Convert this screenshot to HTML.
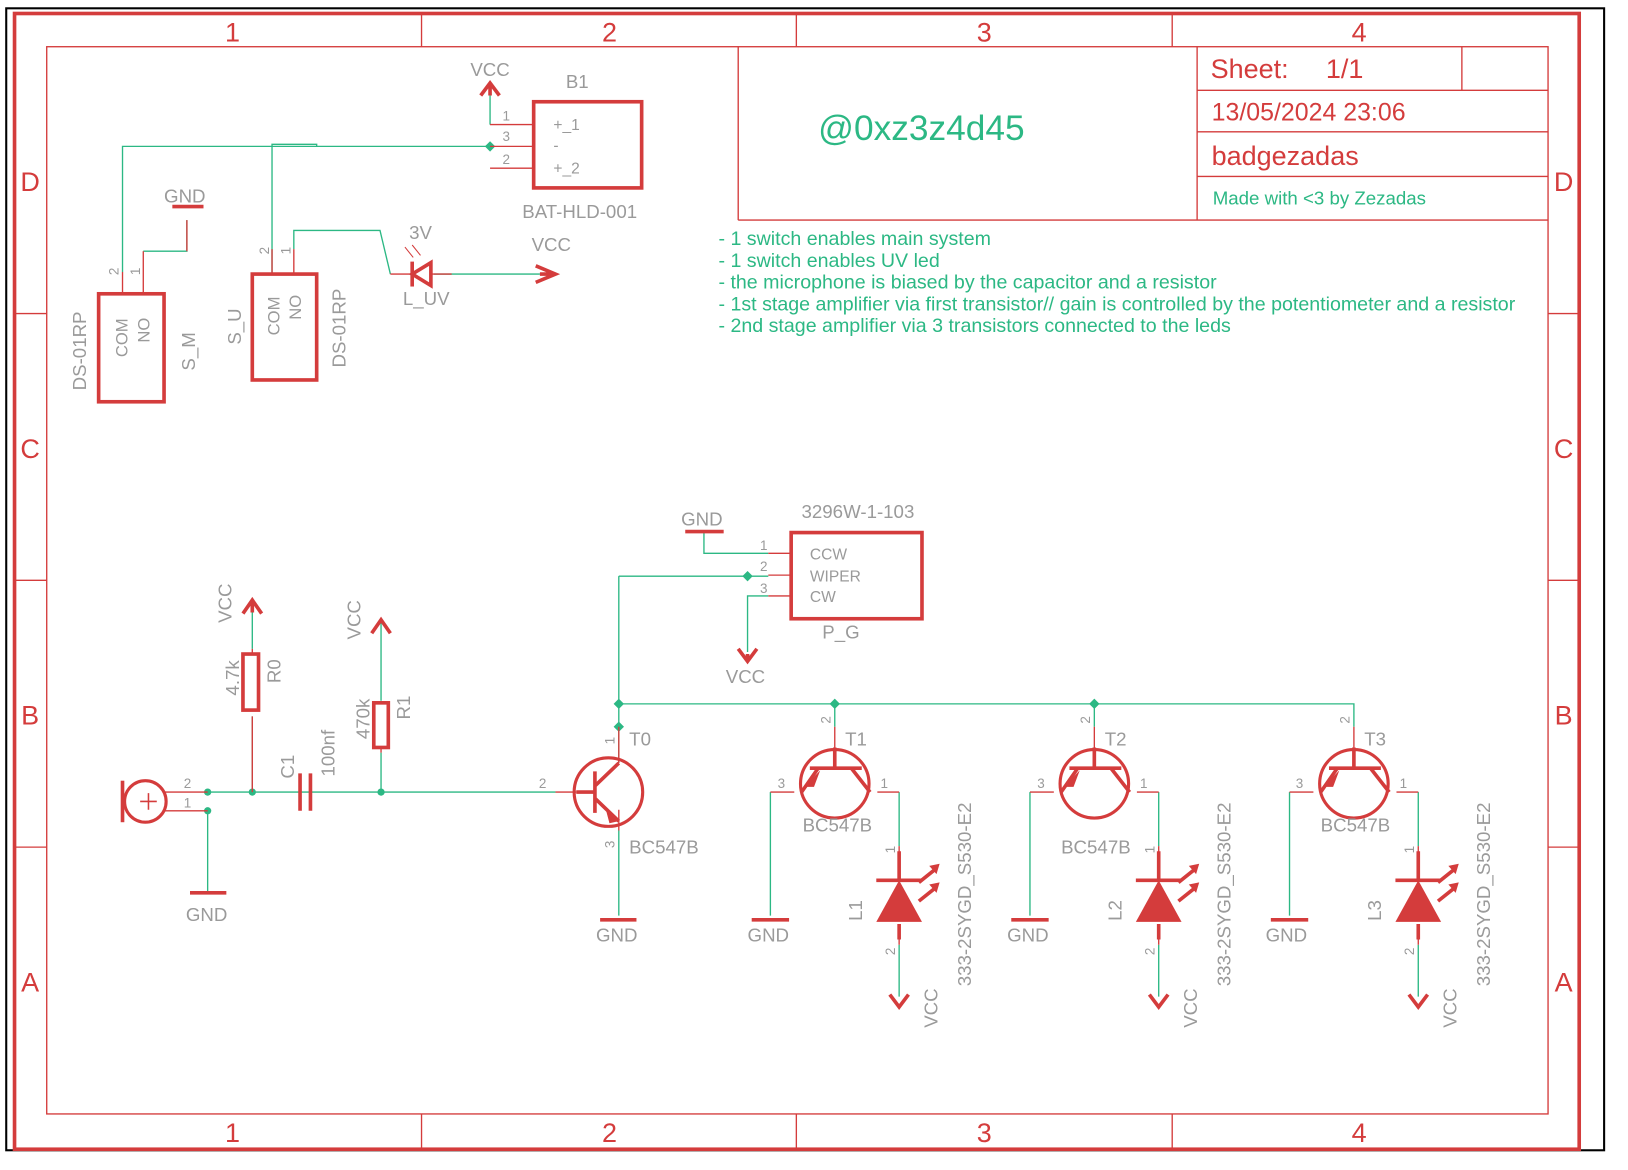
<!DOCTYPE html>
<html><head><meta charset="utf-8"><style>
html,body{margin:0;padding:0;background:#fff}
svg{display:block}
text{font-family:"Liberation Sans",sans-serif}
.g{fill:#9a9a9a}
.t{fill:#2cb884}
.r{fill:#d43c3c}
</style></head><body>
<svg width="1628" height="1170" viewBox="0 0 1568 1127" preserveAspectRatio="none" xmlns="http://www.w3.org/2000/svg">
<rect x="6" y="8" width="1539" height="1100" fill="none" stroke="#000" stroke-width="2"/>
<g stroke="#d43c3c" fill="none">
<rect x="14" y="13" width="1507" height="1094" stroke-width="3.5"/>
<rect x="45" y="45" width="1446" height="1028" stroke-width="1.3"/>
<path d="M406 13V45M767 13V45M1129 13V45M406 1073V1107M767 1073V1107M1129 1073V1107M14 302H45M14 559H45M14 816H45M1491 302H1521M1491 559H1521M1491 816H1521" stroke-width="1.3"/>
<path d="M711 45V212M1153 45V212M1408 45V87M1153 87H1491M1153 127H1491M1153 170H1491M711 212H1491" stroke-width="1.3"/>
</g>
<g class="r" font-size="26" text-anchor="middle">
<text x="224" y="40">1</text><text x="587" y="40">2</text><text x="948" y="40">3</text><text x="1309" y="40">4</text>
<text x="224" y="1100">1</text><text x="587" y="1100">2</text><text x="948" y="1100">3</text><text x="1309" y="1100">4</text>
<text x="29" y="184">D</text><text x="29" y="441">C</text><text x="29" y="698">B</text><text x="29" y="955">A</text>
<text x="1506" y="184">D</text><text x="1506" y="441">C</text><text x="1506" y="698">B</text><text x="1506" y="955">A</text>
</g>
<g class="r" font-size="26">
<text x="1166" y="75">Sheet:</text><text x="1277" y="75">1/1</text>
<text x="1167" y="116" font-size="24">13/05/2024 23:06</text>
<text x="1167" y="159">badgezadas</text>
</g>
<text class="t" x="1168" y="197" font-size="18">Made with &lt;3 by Zezadas</text>
<text class="t" x="788" y="135" font-size="34">@0xz3z4d45</text>
<g class="t" font-size="18.9">
<text x="692" y="236">- 1 switch enables main system</text>
<text x="692" y="257">- 1 switch enables UV led</text>
<text x="692" y="278">- the microphone is biased by the capacitor and a resistor</text>
<text x="692" y="299">- 1st stage amplifier via first transistor// gain is controlled by the potentiometer and a resistor</text>
<text x="692" y="320">- 2nd stage amplifier via 3 transistors connected to the leds</text>
</g>

<g stroke="#2cb884" stroke-width="1.3" fill="none">
<path d="M472 92V120M118 262V141H472M262 264V139H305V141M283 240V222H366L376 264M418 264H520"/>
<path d="M138 242H180V212"/>
<path d="M200 763H535M200 781V860M243 763V690M243 625V590M367 763V725M367 675V600"/>
<path d="M596 555V735M596 678H1304V700M596 555H740M678 512V533H740M740 574H720V628M596 800V882"/>
<path d="M804 678V700M742 763V882M866 763V815M866 910V960"/>
<path d="M1054 678V700M992 763V882M1116 763V815M1116 910V960"/>
<path d="M1242 763V882M1366 763V815M1366 910V960"/>
</g>
<g fill="#2cb884">
<path d="M472 136l5 5-5 5-5-5z"/>
<circle cx="200" cy="763" r="3.5"/><circle cx="200" cy="781" r="3.5"/><circle cx="243" cy="763" r="3.5"/><circle cx="367" cy="763" r="3.5"/>
<path d="M596 673l5 5-5 5-5-5zM596 695l5 5-5 5-5-5zM804 673l5 5-5 5-5-5zM1054 673l5 5-5 5-5-5zM720 550l5 5-5 5-5-5z"/>
</g>

<g stroke="#d43c3c" fill="none">
<g stroke-width="1.3">
<path d="M472 120H514M472 141H514M472 162H514M118 262V283M138 242V283M180 212V242M262 240V264M283 240V264M376 264H397M415 264H435"/>
<path d="M158 763H200M158 781H200M243 763V690M243 625V630M367 725V720M535 763H555M740 533H762M740 554H762M740 574H762"/>
<path d="M596 700V735M596 780V800M804 700V720M765 763H742M845 763H866M866 815V840M866 890V910"/>
<path d="M1054 700V720M1015 763H992M1095 763H1116M1116 815V840M1116 890V910"/>
<path d="M1304 700V720M1265 763H1242M1345 763H1366M1366 815V840M1366 890V910"/>
</g>
<g stroke-width="3.5">
<rect x="514" y="98" width="104" height="83"/>
<rect x="95" y="283" width="63" height="104"/>
<rect x="243" y="264" width="62" height="102"/>
<rect x="762" y="513" width="126" height="83"/>
<path d="M463 92L472 80L481 92M472 80V92"/>
<path d="M166 199H196M516 256L535 264L516 272M520 264H535"/>
<path d="M183 860H218M578 886H613M724 886H760M974 886H1010M1224 886H1260"/>
<path d="M234 591L243 578L252 591M243 578V590M358 610L367 597L376 610M367 597V600M711 625L720 637L729 625M720 630V637"/>
<path d="M857 958L866 970L875 958M1107 958L1116 970L1125 958M1357 958L1366 970L1375 958"/>
<path d="M660 512H697"/>
<rect x="234" y="630" width="15" height="54"/>
<rect x="360" y="677" width="14" height="43"/>
<path d="M289 745V781M299 745V781"/>
<path d="M118 752V792"/>
<circle cx="140" cy="772" r="20" stroke-width="3"/>
<path d="M143 764V780M135 772H151" stroke-width="1.5"/>
<path d="M397 252V276"/>
<circle cx="586" cy="763" r="33" stroke-width="3"/>
<path d="M555 763H573M573 743V783M573 757L596 735M573 769L596 791"/>
</g>
<path d="M397 264L415 253L415 275Z" stroke-width="3.5"/>
<g stroke-width="1" stroke="#d43c3c"><path d="M398 248L390 238M405 246L397 236"/></g>
</g>
<path d="M583 778L596 791L587 793Z" fill="#d43c3c"/>

<g id="tr">
<g stroke="#d43c3c" fill="none" stroke-width="3.5">
<circle cx="804" cy="755" r="33" stroke-width="3"/>
<path d="M804 720V740M780 740H830M788 740L772 763M820 740L838 763"/>
<path d="M844 848H888M866 890V905M866 820V848"/>
<path d="M885 850L900 838M885 868L900 856"/>
</g>
<path d="M844 888H888L866 848Z" fill="#d43c3c"/>
<path d="M775 758L790 742L784 758Z M895 834L905 832L902 842Z M895 852L905 850L902 860Z" fill="#d43c3c"/>
</g>
<use href="#tr" x="250"/><use href="#tr" x="500"/>

<g class="g" font-size="18">
<text x="453" y="73">VCC</text><text x="545" y="85">B1</text>
<text x="503" y="210">BAT-HLD-001</text>
<text x="158" y="195">GND</text>
<text x="394" y="230">3V</text><text x="512" y="242">VCC</text><text x="388" y="294">L_UV</text>
<text x="656" y="506">GND</text><text x="772" y="499">3296W-1-103</text>
<text x="792" y="615">P_G</text><text x="699" y="658">VCC</text>
<text x="179" y="887">GND</text><text x="574" y="907">GND</text>
<text x="720" y="907">GND</text><text x="970" y="907">GND</text><text x="1219" y="907">GND</text>
<text x="606" y="718">T0</text><text x="606" y="822">BC547B</text>
<text x="814" y="718">T1</text><text x="773" y="801">BC547B</text>
<text x="1064" y="718">T2</text><text x="1022" y="822">BC547B</text>
<text x="1314" y="718">T3</text><text x="1272" y="801">BC547B</text>
</g>
<g class="g" font-size="15">
<text x="533" y="125">+_1</text><text x="533" y="145">-</text><text x="533" y="167">+_2</text>
<text x="780" y="539">CCW</text><text x="780" y="560">WIPER</text><text x="780" y="580">CW</text>
</g>
<g class="g" font-size="13">
<text x="484" y="116">1</text><text x="484" y="136">3</text><text x="484" y="158">2</text>
<text x="732" y="530">1</text><text x="732" y="550">2</text><text x="732" y="571">3</text>
<text x="177" y="759">2</text><text x="177" y="778">1</text><text x="519" y="759">2</text>
<text x="749" y="759">3</text><text x="848" y="759">1</text>
<text x="999" y="759">3</text><text x="1098" y="759">1</text>
<text x="1248" y="759">3</text><text x="1348" y="759">1</text>
</g>
<g class="g" font-size="13">
<text transform="translate(114,265) rotate(-90)">2</text><text transform="translate(135,265) rotate(-90)">1</text>
<text transform="translate(259,245) rotate(-90)">2</text><text transform="translate(280,245) rotate(-90)">1</text>
<text transform="translate(592,717) rotate(-90)">1</text><text transform="translate(592,817) rotate(-90)">3</text>
<text transform="translate(800,697) rotate(-90)">2</text><text transform="translate(1050,697) rotate(-90)">2</text><text transform="translate(1300,697) rotate(-90)">2</text>
<text transform="translate(862,822) rotate(-90)">1</text><text transform="translate(862,920) rotate(-90)">2</text>
<text transform="translate(1112,822) rotate(-90)">1</text><text transform="translate(1112,920) rotate(-90)">2</text>
<text transform="translate(1362,822) rotate(-90)">1</text><text transform="translate(1362,920) rotate(-90)">2</text>
</g>
<g class="g" font-size="16">
<text transform="translate(123,344) rotate(-90)">COM</text><text transform="translate(144,330) rotate(-90)">NO</text>
<text transform="translate(269,323) rotate(-90)">COM</text><text transform="translate(290,308) rotate(-90)">NO</text>
</g>
<g class="g" font-size="18">
<text transform="translate(83,376) rotate(-90)">DS-01RP</text>
<text transform="translate(188,357) rotate(-90)">S_M</text>
<text transform="translate(232,332) rotate(-90)">S_U</text>
<text transform="translate(333,354) rotate(-90)">DS-01RP</text>
<text transform="translate(223,600) rotate(-90)">VCC</text>
<text transform="translate(230,670) rotate(-90)">4.7k</text>
<text transform="translate(270,658) rotate(-90)">R0</text>
<text transform="translate(283,750) rotate(-90)">C1</text>
<text transform="translate(322,748) rotate(-90)">100nf</text>
<text transform="translate(347,616) rotate(-90)">VCC</text>
<text transform="translate(356,712) rotate(-90)">470k</text>
<text transform="translate(395,693) rotate(-90)">R1</text>
<text transform="translate(830,887) rotate(-90)">L1</text><text transform="translate(1080,887) rotate(-90)">L2</text><text transform="translate(1330,887) rotate(-90)">L3</text>
<text transform="translate(903,990) rotate(-90)">VCC</text><text transform="translate(1153,990) rotate(-90)">VCC</text><text transform="translate(1403,990) rotate(-90)">VCC</text>
<text transform="translate(935,950) rotate(-90)">333-2SYGD_S530-E2</text>
<text transform="translate(1185,950) rotate(-90)">333-2SYGD_S530-E2</text>
<text transform="translate(1435,950) rotate(-90)">333-2SYGD_S530-E2</text>
</g>
</svg>
</body></html>
